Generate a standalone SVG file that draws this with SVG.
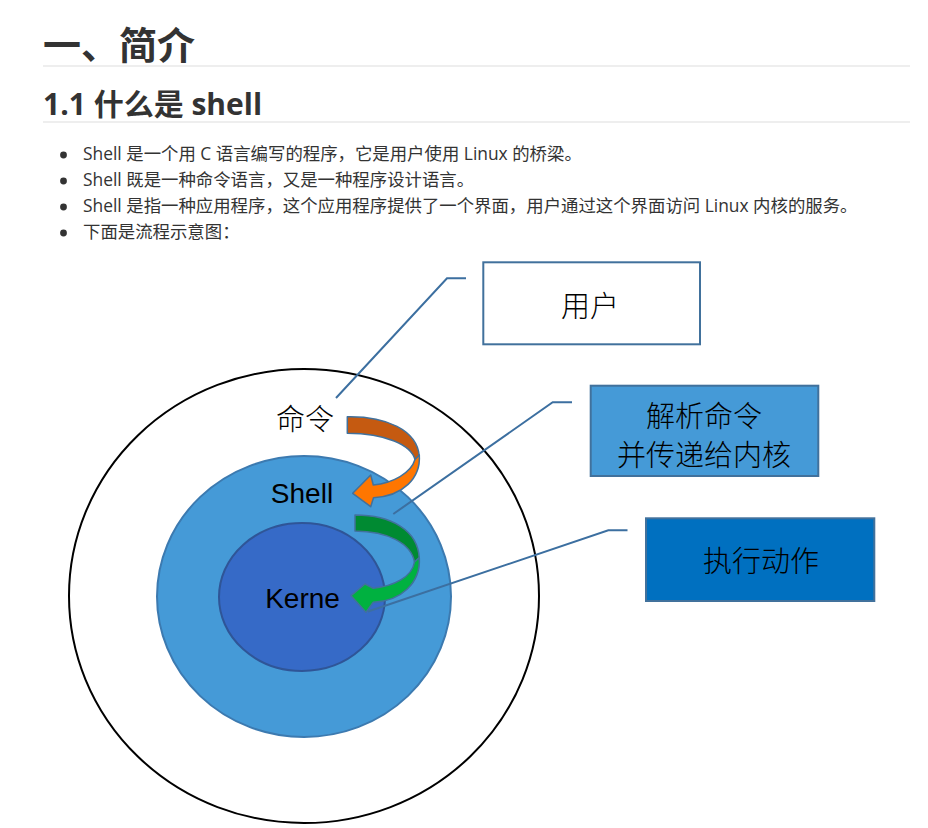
<svg xmlns="http://www.w3.org/2000/svg" width="928" height="828" viewBox="0 0 928 828">
<style>
.h{font-family:"Open Sans","Noto Sans CJK SC",sans-serif;font-weight:bold;fill:#333}
.b{font-family:"Open Sans","Noto Sans CJK SC",sans-serif;font-size:17.4px;fill:#333}
.rule{stroke:#eeeeee;stroke-width:2}
.cj{font-family:"Noto Sans CJK SC",sans-serif;font-size:29px;font-weight:300;fill:#000;text-anchor:middle}
.en{font-family:"Liberation Sans",Arial,sans-serif;font-size:28px;fill:#000;text-anchor:middle}
.lead{fill:none;stroke:#3C6FA0;stroke-width:2}
.arr{stroke:#41719C;stroke-width:1.5;stroke-linejoin:round}
.box{stroke:#41719C;stroke-width:2}
</style>
<rect width="928" height="828" fill="#fff"/>
<g id="header">
<text class="h" x="43" y="59" font-size="38">一、简介</text>
<line class="rule" x1="43" y1="66" x2="910" y2="66"/>
<text class="h" x="43" y="115" font-size="30">1.1 什么是 shell</text>
<line class="rule" x1="43" y1="122" x2="910" y2="122"/>
</g>
<g id="bullets">
<circle cx="63.5" cy="155" r="3.4" fill="#333"/>
<text class="b" x="83" y="160">Shell 是一个用 C 语言编写的程序，它是用户使用 Linux 的桥梁。</text>
<circle cx="63.5" cy="181" r="3.4" fill="#333"/>
<text class="b" x="83" y="186">Shell 既是一种命令语言，又是一种程序设计语言。</text>
<circle cx="63.5" cy="207" r="3.4" fill="#333"/>
<text class="b" x="83" y="212">Shell 是指一种应用程序，这个应用程序提供了一个界面，用户通过这个界面访问 Linux 内核的服务。</text>
<circle cx="63.5" cy="233" r="3.4" fill="#333"/>
<text class="b" x="83" y="238">下面是流程示意图：</text>
</g>
<g id="outer">
<ellipse cx="304" cy="596" rx="235" ry="227" fill="#fff" stroke="#000" stroke-width="2"/>
<text class="cj" x="305" y="430">命令</text>
</g>
<g id="shell">
<ellipse cx="304" cy="596.5" rx="147" ry="140.5" fill="#459AD7" stroke="#3C7AB0" stroke-width="2"/>
<text class="en" x="302" y="503">Shell</text>
</g>
<g id="kernel">
<ellipse cx="302" cy="597" rx="83" ry="74" fill="#366AC7" stroke="#2F5597" stroke-width="2"/>
<text class="en" x="302.5" y="608">Kerne</text>
</g>
<g id="arrow-orange">
<path class="arr" fill="#C55A11" d="M347.3,416.7 C386,416 417,430 419.3,456 L415,459.5 C411,445 386,433.5 347.3,433.3 Z"/>
<path class="arr" fill="#FF7600" d="M419.3,455 C421,478 403,496 373.5,497.7 L370.7,506.7 L352.7,493.3 L370.7,475 L373.3,485 C393,483 411,473 415,459.5 Z"/>
</g>
<g id="arrow-green">
<path class="arr" fill="#008A32" d="M355,515 C391,515 418,530 419.3,558.3 L414.5,562 C411,543 388,531.5 355,531 Z"/>
<path class="arr" fill="#00B140" d="M419.3,557.5 C421,583 401,601 373.3,602.3 L366,612.3 L351,595.7 L365,584 L373.3,588.3 C394,586 412,577 414.5,562 Z"/>
</g>
<g id="user">
<rect class="box" x="483.3" y="262.3" width="216.7" height="82" fill="#fff"/>
<text class="cj" x="590" y="317">用户</text>
</g>
<g id="parse">
<rect class="box" x="590.7" y="385.7" width="227.6" height="90.3" fill="#459AD7"/>
<text class="cj" x="704" y="427">解析命令</text>
<text class="cj" x="704" y="466">并传递给内核</text>
</g>
<g id="exec">
<rect class="box" x="646" y="518.3" width="228.3" height="82.7" fill="#0070C0" stroke="#4A80B4"/>
<text class="cj" x="761" y="572">执行动作</text>
</g>
<g id="connectors">
<polyline class="lead" points="336,398 447,278.3 466,278.3"/>
<polyline class="lead" points="393.3,514 552.7,402.3 572,402.3"/>
<polyline class="lead" points="368,611.5 608.3,530.3 627.5,530.3"/>
</g>
</svg>
